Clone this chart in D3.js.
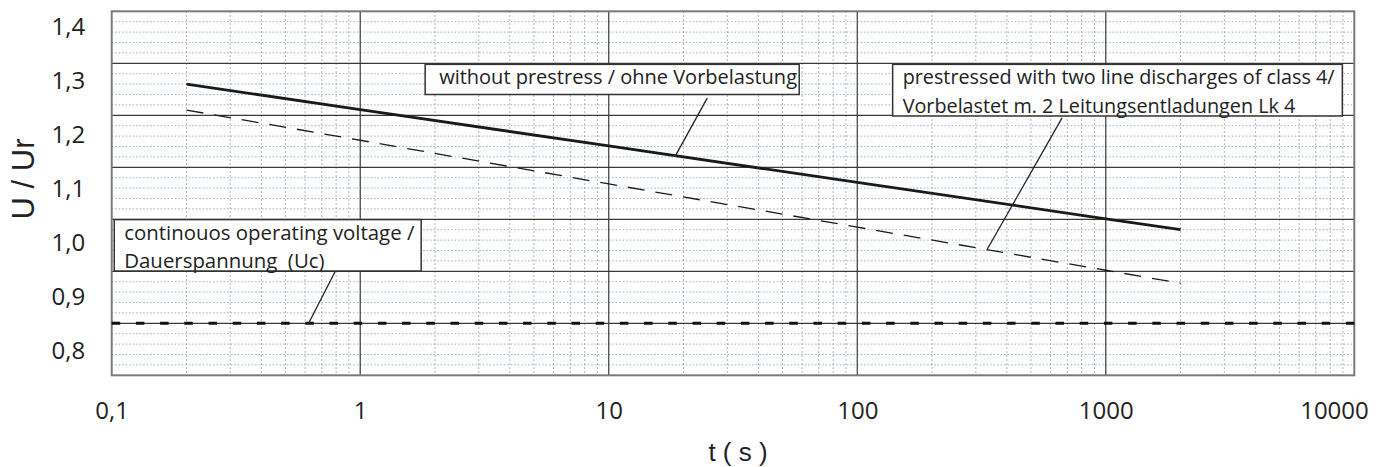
<!DOCTYPE html>
<html>
<head>
<meta charset="utf-8">
<script src="https://cdn.jsdelivr.net/npm/d3@7"></script>
<style>
body { margin: 0; background: #fff; }
</style>
</head>
<body>
<script>
// time values (s) where the curves are read
var times = [0.2, 1, 10, 100, 1000, 2000];
// U / Ur without prestress
var withoutPrestress = [1.310, 1.261, 1.191, 1.121, 1.051, 1.030];
// U / Ur prestressed with two line discharges of class 4
var prestressed = [1.260, 1.202, 1.118, 1.035, 0.952, 0.927];
// continuous operating voltage Uc
var ucTimes = [0.1, 10000];
var ucValues = [0.85, 0.85];

// tick labels
var xTicks = [0.1, 1, 10, 100, 1000, 10000];
var xTickLabels = ["0,1", "1", "10", "100", "1000", "10000"];
var yTicks = [0.8, 0.9, 1.0, 1.1, 1.2, 1.3, 1.4];
var yTickLabels = ["0,8", "0,9", "1,0", "1,1", "1,2", "1,3", "1,4"];
// major horizontal grid lines
var yGrid = [0.85, 0.95, 1.05, 1.15, 1.25, 1.35];

// annotation texts with boxes, leader lines (in t / U units)
var annotations = [
    { lines: ["without prestress / ohne Vorbelastung"],
      box: [1.825, 58.4, 1.348, 1.290], from: [24.9, 1.283], to: [18.5, 1.171], dx: 14, size: 20 },
    { lines: ["prestressed with two line discharges of class 4/", "Vorbelastet m. 2 Leitungsentladungen Lk 4"],
      box: [138.8, 8950, 1.348, 1.2487], from: [667, 1.245], to: [333, 0.992], dx: 10, size: 19.8 },
    { lines: ["continouos operating voltage /", "Dauerspannung  (Uc)"],
      box: [0.1024, 1.759, 1.0494, 0.9506], from: [0.792, 0.949], to: [0.62, 0.85], dx: 10, size: 20.4 }
];

// dimensions
var width = 1388;
var height = 467;

var margin = {
    top: 11.3,
    bottom: 91.7,
    left: 111.7,
    right: 33.7
};

var svg = d3.select("body")
    .append("svg")
    .attr("width", width)
    .attr("height", height)
    .append("g")
    .attr("transform", "translate(" + margin.left + "," + margin.top + ")");

width = width - margin.left - margin.right;
height = height - margin.top - margin.bottom;

var x = d3.scaleLog().domain([0.1, 10000]).range([0, width]);
var y = d3.scaleLinear().domain([0.75, 1.45]).range([height, 0]);
// the tick labels in the original sit a little off the grid lines
var yLab = d3.scaleLinear().domain([0.8, 1.4]).range([y(0.797), y(1.421)]);

// minor horizontal dotted lines every 0.02
var minorY = d3.range(0, 36).filter(function(i) { return i % 5 != 0; })
    .map(function(i) { return 0.75 + i * 0.02; });
svg.selectAll(".minor-y")
    .data(minorY)
    .enter().append("line")
    .attr("x1", 0).attr("x2", width)
    .attr("y1", function(d) { return y(d); })
    .attr("y2", function(d) { return y(d); })
    .attr("stroke", "#8eaed6")
    .attr("stroke-width", 1)
    .attr("stroke-dasharray", "1.5,2");

// minor vertical dotted lines at 2..9 of every decade
var minorX = [];
[0.1, 1, 10, 100, 1000].forEach(function(dec) {
    for (var k = 2; k <= 9; k++) minorX.push(dec * k);
});
svg.selectAll(".minor-x")
    .data(minorX)
    .enter().append("line")
    .attr("x1", function(d) { return x(d); })
    .attr("x2", function(d) { return x(d); })
    .attr("y1", 0).attr("y2", height)
    .attr("stroke", "#9a9a9a")
    .attr("stroke-width", 1)
    .attr("stroke-dasharray", "1.5,2.5");

// major grid lines
svg.selectAll(".major-y")
    .data(yGrid)
    .enter().append("line")
    .attr("x1", 0).attr("x2", width)
    .attr("y1", function(d) { return y(d); })
    .attr("y2", function(d) { return y(d); })
    .attr("stroke", "#3a3a3a")
    .attr("stroke-width", 1.2);

svg.selectAll(".major-x")
    .data([1, 10, 100, 1000])
    .enter().append("line")
    .attr("x1", function(d) { return x(d); })
    .attr("x2", function(d) { return x(d); })
    .attr("y1", 0).attr("y2", height)
    .attr("stroke", "#3a3a3a")
    .attr("stroke-width", 1.2);

// plot frame
svg.append("rect")
    .attr("width", width)
    .attr("height", height)
    .attr("fill", "none")
    .attr("stroke", "#7a7a7a")
    .attr("stroke-width", 2);

// curves
var line = d3.line()
    .x(function(d) { return x(d[0]); })
    .y(function(d) { return y(d[1]); });

svg.append("path")
    .datum(d3.zip(ucTimes, ucValues))
    .attr("d", line)
    .attr("fill", "none")
    .attr("stroke", "#111")
    .attr("stroke-width", 3)
    .attr("stroke-dasharray", "8.5,15.7");

svg.append("path")
    .datum(d3.zip(times, prestressed))
    .attr("d", line)
    .attr("fill", "none")
    .attr("stroke", "#1a1a1a")
    .attr("stroke-width", 1.3)
    .attr("stroke-dasharray", "17,11");

svg.append("path")
    .datum(d3.zip(times, withoutPrestress))
    .attr("d", line)
    .attr("fill", "none")
    .attr("stroke", "#1a1a1a")
    .attr("stroke-width", 2.8);

// annotation boxes and leader lines
var note = svg.selectAll(".note")
    .data(annotations)
    .enter().append("g");

note.append("line")
    .attr("x1", function(d) { return x(d.from[0]); })
    .attr("y1", function(d) { return y(d.from[1]); })
    .attr("x2", function(d) { return x(d.to[0]); })
    .attr("y2", function(d) { return y(d.to[1]); })
    .attr("stroke", "#222")
    .attr("stroke-width", 1.3);

note.append("rect")
    .attr("x", function(d) { return x(d.box[0]); })
    .attr("y", function(d) { return y(d.box[2]); })
    .attr("width", function(d) { return x(d.box[1]) - x(d.box[0]); })
    .attr("height", function(d) { return y(d.box[3]) - y(d.box[2]); })
    .attr("fill", "#fff")
    .attr("stroke", "#333")
    .attr("stroke-width", 1.5);

note.each(function(d) {
    var g = d3.select(this);
    d.lines.forEach(function(t, i) {
        g.append("text")
            .attr("x", x(d.box[0]) + d.dx)
            .attr("y", y(d.box[2]) + 20 + i * 28.3)
            .attr("font-family", "'Open Sans', 'Noto Sans', sans-serif")
            .attr("font-size", d.size)
            .attr("fill", "#222")
            .style("white-space", "pre")
            .text(t);
    });
});

// axes
var xAxis = svg.append("g")
    .attr("transform", "translate(0," + height + ")")
    .call(d3.axisBottom(x)
        .tickValues(xTicks)
        .tickFormat(function(d, i) { return xTickLabels[i]; })
        .tickSize(0)
        .tickPadding(27));

var yAxis = svg.append("g")
    .call(d3.axisLeft(yLab)
        .tickValues(yTicks)
        .tickFormat(function(d, i) { return yTickLabels[i]; })
        .tickSize(0)
        .tickPadding(26.5));

[xAxis, yAxis].forEach(function(a) {
    a.select(".domain").remove();
    a.selectAll("text")
        .attr("font-family", "'Open Sans', 'Noto Sans', sans-serif")
        .attr("font-size", 24)
        .attr("fill", "#222");
});

// last label is pulled in so it stays on the page
xAxis.selectAll(".tick text")
    .filter(function(d) { return d == 10000; })
    .attr("text-anchor", "end")
    .attr("dx", 14);

// axis titles
svg.append("text")
    .attr("transform", "translate(" + (33.5 - margin.left) + "," + (179 - margin.top) + ") rotate(-90)")
    .attr("text-anchor", "middle")
    .attr("font-family", "'Liberation Sans', Arial, sans-serif")
    .attr("font-size", 31)
    .attr("fill", "#222")
    .text("U / Ur");

svg.append("text")
    .attr("x", width / 2 + 5)
    .attr("y", height + 86)
    .attr("text-anchor", "middle")
    .attr("font-family", "'Liberation Sans', Arial, sans-serif")
    .attr("font-size", 26)
    .attr("fill", "#222")
    .text("t ( s )");
</script>
</body>
</html>
